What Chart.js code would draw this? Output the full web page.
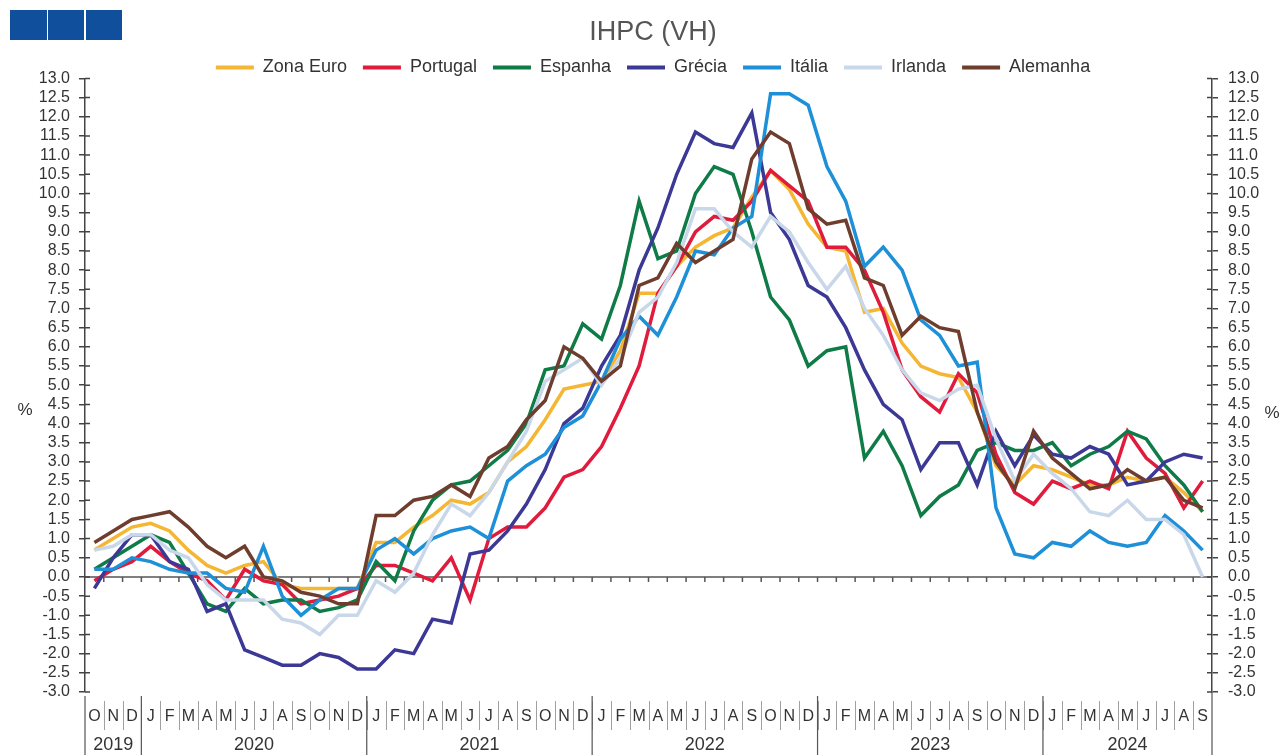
<!DOCTYPE html>
<html>
<head>
<meta charset="utf-8">
<script src="https://cdn.jsdelivr.net/npm/chart.js@4"></script>
<style>
html, body { margin: 0; padding: 0; background: #fff; }
#wrap { position: relative; width: 1282px; height: 755px; }
.logo { position: absolute; top: 10px; height: 30px; background: #0f4f9c; }
</style>
</head>
<body>
<div id="wrap">
  <div class="logo" style="left:10px;width:37px"></div>
  <div class="logo" style="left:48px;width:36px"></div>
  <div class="logo" style="left:86px;width:36px"></div>
  <canvas id="canvas" width="1282" height="755"></canvas>
</div>
<script>
// meses de Out 2019 a Set 2024
var meses = ['O','N','D',
  'J','F','M','A','M','J','J','A','S','O','N','D',
  'J','F','M','A','M','J','J','A','S','O','N','D',
  'J','F','M','A','M','J','J','A','S','O','N','D',
  'J','F','M','A','M','J','J','A','S','O','N','D',
  'J','F','M','A','M','J','J','A','S'];
var anos = ['2019','2020','2021','2022','2023','2024'];
var mesesPorAno = [3, 12, 12, 12, 12, 9];

var zonaEuro = [0.7,1.0,1.3, 1.4,1.2,0.7,0.3,0.1,0.3,0.4,-0.2,-0.3,-0.3,-0.3,-0.3, 0.9,0.9,1.3,1.6,2.0,1.9,2.2,3.0,3.4,4.1,4.9,5.0, 5.1,5.9,7.4,7.4,8.1,8.6,8.9,9.1,9.9,10.6,10.1,9.2, 8.6,8.5,6.9,7.0,6.1,5.5,5.3,5.2,4.3,2.9,2.4,2.9, 2.8,2.6,2.4,2.4,2.6,2.5,2.6,2.2,1.7];
var portugal = [-0.1,0.2,0.4, 0.8,0.4,0.1,-0.1,-0.6,0.2,-0.1,-0.2,-0.7,-0.6,-0.5,-0.3, 0.3,0.3,0.1,-0.1,0.5,-0.6,1.0,1.3,1.3,1.8,2.6,2.8, 3.4,4.4,5.5,7.4,8.1,9.0,9.4,9.3,9.8,10.6,10.2,9.8, 8.6,8.6,8.0,6.9,5.4,4.7,4.3,5.3,4.8,3.2,2.2,1.9, 2.5,2.3,2.5,2.3,3.8,3.1,2.7,1.8,2.5];
var espanha = [0.2,0.5,0.8, 1.1,0.9,0.1,-0.7,-0.9,-0.3,-0.7,-0.6,-0.6,-0.9,-0.8,-0.6, 0.4,-0.1,1.2,2.0,2.4,2.5,2.9,3.3,4.0,5.4,5.5,6.6, 6.2,7.6,9.8,8.3,8.5,10.0,10.7,10.5,9.0,7.3,6.7,5.5, 5.9,6.0,3.1,3.8,2.9,1.6,2.1,2.4,3.3,3.5,3.3,3.3, 3.5,2.9,3.2,3.4,3.8,3.6,2.9,2.4,1.7];
var grecia = [-0.3,0.5,1.1, 1.1,0.4,0.2,-0.9,-0.7,-1.9,-2.1,-2.3,-2.3,-2.0,-2.1,-2.4, -2.4,-1.9,-2.0,-1.1,-1.2,0.6,0.7,1.2,1.9,2.8,4.0,4.4, 5.5,6.3,8.0,9.1,10.5,11.6,11.3,11.2,12.1,9.5,8.8,7.6, 7.3,6.5,5.4,4.5,4.1,2.8,3.5,3.5,2.4,3.8,2.9,3.7, 3.2,3.1,3.4,3.2,2.4,2.5,3.0,3.2,3.1];
var italia = [0.2,0.2,0.5, 0.4,0.2,0.1,0.1,-0.3,-0.4,0.8,-0.5,-1.0,-0.6,-0.3,-0.3, 0.7,1.0,0.6,1.0,1.2,1.3,1.0,2.5,2.9,3.2,3.9,4.2, 5.1,6.2,6.8,6.3,7.3,8.5,8.4,9.1,9.4,12.6,12.6,12.3, 10.7,9.8,8.1,8.6,8.0,6.7,6.3,5.5,5.6,1.8,0.6,0.5, 0.9,0.8,1.2,0.9,0.8,0.9,1.6,1.2,0.7];
var irlanda = [0.7,0.8,1.1, 1.1,0.7,0.5,-0.2,-0.6,-0.6,-0.6,-1.1,-1.2,-1.5,-1.0,-1.0, -0.1,-0.4,0.1,1.1,1.9,1.6,2.2,3.0,3.8,5.1,5.4,5.7, 5.0,5.7,6.9,7.3,8.2,9.6,9.6,9.0,8.6,9.4,9.0,8.2, 7.5,8.1,7.0,6.3,5.4,4.8,4.6,4.9,5.0,3.6,2.5,3.2, 2.7,2.3,1.7,1.6,2.0,1.5,1.5,1.1,0.0];
var alemanha = [0.9,1.2,1.5, 1.6,1.7,1.3,0.8,0.5,0.8,0.0,-0.1,-0.4,-0.5,-0.7,-0.7, 1.6,1.6,2.0,2.1,2.4,2.1,3.1,3.4,4.1,4.6,6.0,5.7, 5.1,5.5,7.6,7.8,8.7,8.2,8.5,8.8,10.9,11.6,11.3,9.6, 9.2,9.3,7.8,7.6,6.3,6.8,6.5,6.4,4.3,3.0,2.3,3.8, 3.1,2.7,2.3,2.4,2.8,2.5,2.6,2.0,1.8];

var series = [
  ['Zona Euro', zonaEuro, '#F4B633'],
  ['Portugal', portugal, '#E01B3C'],
  ['Espanha', espanha, '#0F7B46'],
  ['Grécia', grecia, '#3C3896'],
  ['Itália', italia, '#1E90D8'],
  ['Irlanda', irlanda, '#C9D7EA'],
  ['Alemanha', alemanha, '#6F3D2D']
];

var fonte = '"Liberation Sans", Arial, sans-serif';

// ajusta a altura da legenda (o Chart.js junta 10px por baixo)
var ajusteLegenda = {
  id: 'ajusteLegenda',
  beforeLayout: function(chart) {
    var lg = chart.legend;
    if (lg && !lg._ajustado) {
      var fitOrig = lg.fit;
      lg.fit = function() { fitOrig.call(this); this.height = 36; };
      lg._ajustado = true;
    }
  }
};

var eixos = {
  id: 'eixos',
  beforeDatasetsDraw: function(chart) {
    var c = chart.ctx, xs = chart.scales.x, ys = chart.scales.y, area = chart.chartArea;
    var banda = xs.width / meses.length;
    var y0 = ys.getPixelForValue(0);
    c.save();
    c.strokeStyle = '#555';
    c.lineWidth = 1.5;
    c.beginPath();
    c.moveTo(area.left, y0);
    c.lineTo(area.right, y0);
    for (var i = 1; i < meses.length; i++) {
      var px = xs.getPixelForValue(i) - banda / 2;
      c.moveTo(px, y0);
      c.lineTo(px, y0 + 5);
    }
    c.stroke();
    c.restore();
  },
  afterDraw: function(chart) {
    var c = chart.ctx, xs = chart.scales.x, ys = chart.scales.y, area = chart.chartArea;
    var banda = xs.width / meses.length;
    c.save();
    // separadores dos meses
    c.strokeStyle = '#a0a0a0';
    c.lineWidth = 1;
    c.beginPath();
    for (var i = 1; i < meses.length; i++) {
      var px = Math.round(xs.getPixelForValue(i) - banda / 2) + 0.5;
      c.moveTo(px, area.bottom + 9);
      c.lineTo(px, area.bottom + 38);
    }
    c.stroke();
    // anos
    c.strokeStyle = '#555';
    c.lineWidth = 1.2;
    c.fillStyle = '#333';
    c.font = '18px ' + fonte;
    c.textAlign = 'center';
    c.textBaseline = 'middle';
    c.beginPath();
    var inicio = 0;
    for (var k = 0; k < anos.length; k++) {
      var fim = inicio + mesesPorAno[k] - 1;
      var xa = xs.getPixelForValue(inicio) - banda / 2;
      var xb = xs.getPixelForValue(fim) + banda / 2;
      c.fillText(anos[k], (xa + xb) / 2, area.bottom + 53);
      c.moveTo(xa, area.bottom + 4);
      c.lineTo(xa, chart.height);
      inicio = fim + 1;
    }
    c.moveTo(area.right, area.bottom);
    c.lineTo(area.right, chart.height);
    c.stroke();
    // marcas interiores dos eixos
    c.strokeStyle = '#444';
    c.lineWidth = 1.5;
    c.beginPath();
    for (var v = -3; v <= 13; v += 0.5) {
      var py = ys.getPixelForValue(v);
      c.moveTo(area.left, py); c.lineTo(area.left + 5, py);
      c.moveTo(area.right, py); c.lineTo(area.right - 5, py);
    }
    c.stroke();
    // %
    c.font = '17px ' + fonte;
    c.fillText('%', 25, 410);
    c.fillText('%', 1272, 413);
    c.restore();
  }
};

var ctx = document.getElementById('canvas').getContext('2d');
var myChart = new Chart(ctx, {
  type: 'line',
  data: {
    labels: meses,
    datasets: series.map(function(s, i) {
      return {
        label: s[0],
        data: s[1],
        borderColor: s[2],
        backgroundColor: s[2],
        borderWidth: 3.5,
        pointRadius: 0,
        tension: 0,
        fill: false,
        yAxisID: 'y',
        order: series.length - i
      };
    })
  },
  options: {
    responsive: false,
    animation: false,
    devicePixelRatio: 1,
    layout: { padding: { left: 24, right: 0, top: 0, bottom: 0 } },
    plugins: {
      tooltip: { enabled: false },
      title: {
        display: true,
        text: 'IHPC (VH)',
        color: '#555',
        font: { family: fonte, size: 27, weight: 'normal' },
        padding: { top: 16, bottom: -6 }
      },
      legend: {
        position: 'top',
        labels: {
          color: '#333',
          font: { family: fonte, size: 18 },
          boxWidth: 38,
          boxHeight: 4,
          padding: 16,
          sort: function(a, b) { return a.datasetIndex - b.datasetIndex; },
          generateLabels: function(chart) {
            return Chart.defaults.plugins.legend.labels.generateLabels(chart).map(function(l) {
              l.lineWidth = 0;
              return l;
            });
          }
        }
      }
    },
    scales: {
      x: {
        offset: true,
        grid: { display: false, drawTicks: false },
        border: { display: false },
        ticks: {
          autoSkip: false,
          maxRotation: 0,
          color: '#333',
          font: { family: fonte, size: 16 },
          padding: 15
        },
        afterFit: function(s) { s.height = 63; }
      },
      y: {
        position: 'left',
        min: -3,
        max: 13,
        grid: { drawOnChartArea: false, tickLength: 6, color: '#444', lineWidth: 1.5 },
        border: { color: '#444', width: 1.5 },
        ticks: {
          stepSize: 0.5,
          autoSkip: false,
          color: '#333',
          font: { family: fonte, size: 16 },
          padding: 9,
          callback: function(v) { return Number(v).toFixed(1); }
        },
        afterFit: function(s) { s.width = 61; }
      },
      y2: {
        position: 'right',
        min: -3,
        max: 13,
        grid: { drawOnChartArea: false, tickLength: 6, color: '#444', lineWidth: 1.5 },
        border: { color: '#444', width: 1.5 },
        ticks: {
          stepSize: 0.5,
          autoSkip: false,
          color: '#333',
          font: { family: fonte, size: 16 },
          padding: 10,
          callback: function(v) { return Number(v).toFixed(1); }
        },
        afterFit: function(s) { s.width = 70; }
      }
    }
  },
  plugins: [ajusteLegenda, eixos]
});
</script>
</body>
</html>
